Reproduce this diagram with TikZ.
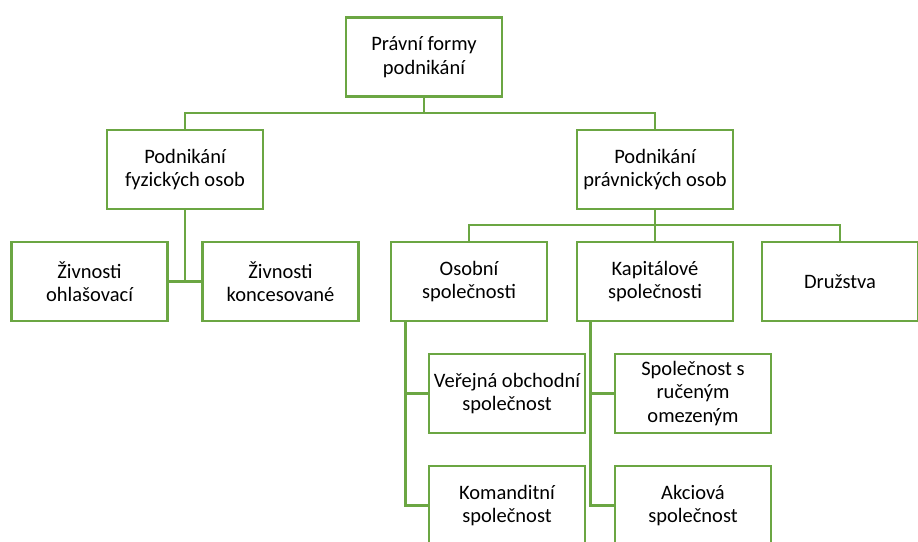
\documentclass[tikz,border=0pt]{standalone}
\usepackage{fontspec}
\setmainfont{Carlito}
\usetikzlibrary{calc}
\definecolor{lgreen}{HTML}{6BA643}
\begin{document}
\begin{tikzpicture}[x=1pt,y=-1pt,
  box/.style={draw=lgreen,line width=2.6pt,fill=white,minimum width=156pt,minimum height=79pt,
    align=center,inner sep=1pt,font=\fontsize{20.5}{23.3}\selectfont,text=black},
  conn/.style={draw=lgreen,line width=2.6pt}]
\useasboundingbox (0,0) rectangle (918,541);
\clip (0,0) rectangle (918,541);
\node[box] (top) at (424,57) {Právní formy\\podnikání};
\node[box] (fyz) at (185,169.5) {Podnikání\\fyzických osob};
\node[box] (prav) at (655,169.5) {Podnikání\\právnických osob};
\node[box] (ohl) at (89.5,281.5) {Živnosti\\ohlašovací};
\node[box] (konc) at (280.5,281.5) {Živnosti\\koncesované};
\node[box] (osob) at (469,281.5) {Osobní\\společnosti};
\node[box] (kap) at (655,281.5) {Kapitálové\\společnosti};
\node[box] (druz) at (840,281.5) {Družstva};
\node[box] (ver) at (507,393.5) {Veřejná obchodní\\společnost};
\node[box] (kom) at (507,505.5) {Komanditní\\společnost};
\node[box] (sro) at (693,393.5) {Společnost s\\ručeným\\omezeným};
\node[box] (akc) at (693,505.5) {Akciová\\společnost};
\coordinate (h1) at (424,113);
\coordinate (h2) at (655,225);
\coordinate (vo) at ($(osob.south west)+(16,0)$);
\coordinate (vk) at ($(kap.south west)+(15,0)$);
\draw[conn] (top.south) -- (h1) -| (fyz.north);
\draw[conn] (h1) -| (prav.north);
\draw[conn] (fyz.south) -- (fyz.south|-ohl.east);
\draw[conn] (ohl.east) -- (konc.west);
\draw[conn] (prav.south) -- (h2) -| (osob.north);
\draw[conn] (h2) -- (kap.north);
\draw[conn] (h2) -| (druz.north);
\draw[conn] (vo) |- (ver.west);
\draw[conn] (vo) |- (kom.west);
\draw[conn] (vk) |- (sro.west);
\draw[conn] (vk) |- (akc.west);
\end{tikzpicture}
\end{document}
